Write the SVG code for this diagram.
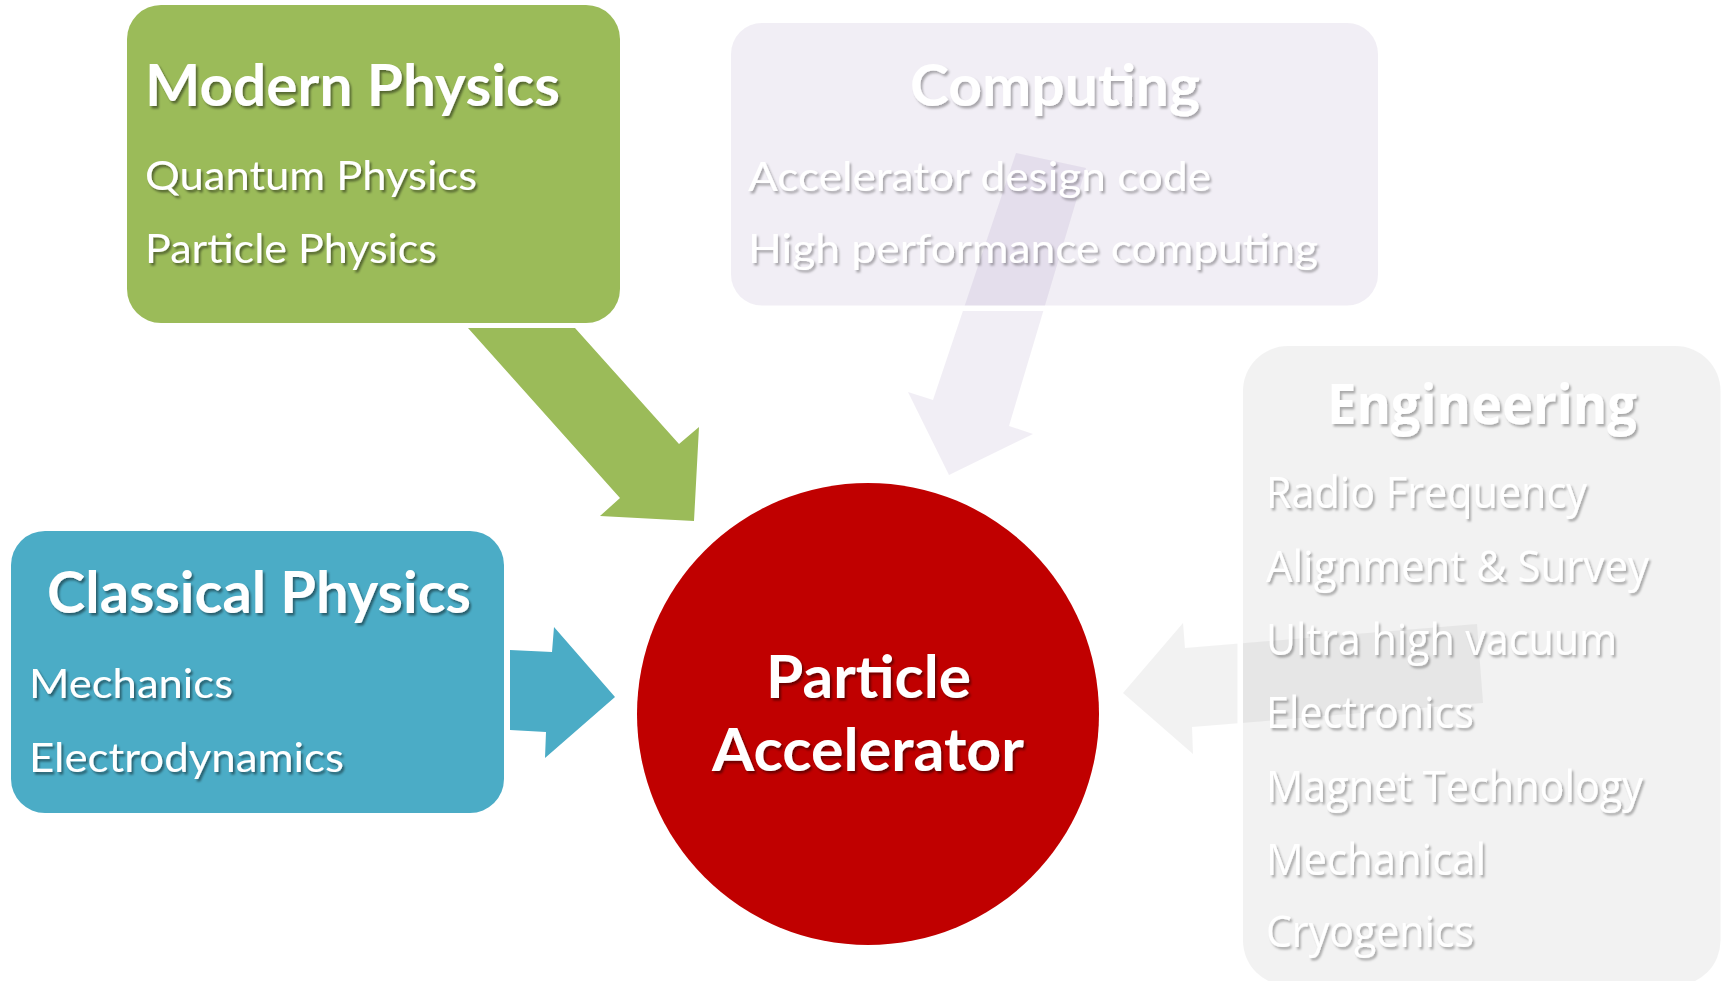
<svg xmlns="http://www.w3.org/2000/svg" width="1721" height="981" viewBox="0 0 1721 981">
  <defs>
    <filter id="ts" x="-5%" y="-20%" width="110%" height="150%">
      <feDropShadow dx="2" dy="2.5" stdDeviation="1.3" flood-color="#000" flood-opacity="0.45"/>
    </filter>
    <filter id="tsl" x="-5%" y="-20%" width="110%" height="150%">
      <feDropShadow dx="2" dy="2.5" stdDeviation="1.3" flood-color="#000" flood-opacity="0.3"/>
    </filter>
  </defs>
  <style>
    .t { fill: #fff; font-family: Lato, "Open Sans", "Liberation Sans", sans-serif; }
    .e { fill: #fff; font-family: "Open Sans", "Noto Sans", "Liberation Sans", sans-serif; }
    .b { font-weight: 700; }
    .h { font-size: 57px; }
    .i { font-size: 41px; }
    .ei { font-size: 43px; }
    .ring { fill: none; stroke: #fff; stroke-width: 5.5; }
  </style>
  <rect width="1721" height="981" fill="#fff"/>

  <g id="connectors">
    <polygon id="arrow-computing" points="1016,153 1086,168 1009,426 1033,434 949,475 908,392 933,400" fill="#8064A2" fill-opacity="0.11"/>
    <polygon id="arrow-engineering" points="1123,693 1183,623 1185,648 1477,624 1483,703 1192,727 1193,754" fill="#808080" fill-opacity="0.1"/>
    <polygon id="arrow-modern" points="468,328 575,328 679,444 699,427 694,521 600,516 620,498" fill="#9BBB59"/>
    <polygon id="arrow-classical" points="510,650 552,652 554,627 615,697 545,758 546,732 510,730" fill="#4BACC6"/>
  </g>

  <g id="node-modern">
    <rect x="127" y="5" width="493" height="318" rx="34" fill="#9BBB59"/>
    <g filter="url(#ts)">
      <text class="t b h" x="145" y="106" textLength="415" lengthAdjust="spacingAndGlyphs">Modern Physics</text>
      <text class="t i" x="145" y="190" textLength="332" lengthAdjust="spacingAndGlyphs">Quantum Physics</text>
      <text class="t i" x="145" y="263" textLength="292" lengthAdjust="spacingAndGlyphs">Particle Physics</text>
    </g>
  </g>

  <g id="node-computing">
    <rect class="ring" x="728.25" y="20.25" width="652.5" height="288" rx="34"/>
    <rect x="731" y="23" width="647" height="282.5" rx="31" fill="#8064A2" fill-opacity="0.11"/>
    <g filter="url(#tsl)">
      <text class="t b h" x="910" y="106" textLength="290" lengthAdjust="spacingAndGlyphs">Computing</text>
      <text class="t i" x="748" y="191" textLength="463" lengthAdjust="spacingAndGlyphs">Accelerator design code</text>
      <text class="t i" x="748" y="263" textLength="570" lengthAdjust="spacingAndGlyphs">High performance computing</text>
    </g>
  </g>

  <g id="node-engineering">
    <rect class="ring" x="1240.25" y="343.25" width="483" height="645" rx="48"/>
    <rect x="1243" y="346" width="477.5" height="639.5" rx="45" fill="#808080" fill-opacity="0.1"/>
    <g filter="url(#tsl)">
      <text class="e b" font-size="56" x="1327" y="424" textLength="310" lengthAdjust="spacingAndGlyphs">Engineering</text>
      <text class="e ei" x="1266" y="508" textLength="321" lengthAdjust="spacingAndGlyphs">Radio Frequency</text>
      <text class="e ei" x="1266" y="582" textLength="383" lengthAdjust="spacingAndGlyphs">Alignment &amp; Survey</text>
      <text class="e ei" x="1266" y="655" textLength="351" lengthAdjust="spacingAndGlyphs">Ultra high vacuum</text>
      <text class="e ei" x="1266" y="728" textLength="208" lengthAdjust="spacingAndGlyphs">Electronics</text>
      <text class="e ei" x="1266" y="802" textLength="377" lengthAdjust="spacingAndGlyphs">Magnet Technology</text>
      <text class="e ei" x="1266" y="875" textLength="220" lengthAdjust="spacingAndGlyphs">Mechanical</text>
      <text class="e ei" x="1266" y="947" textLength="208" lengthAdjust="spacingAndGlyphs">Cryogenics</text>
    </g>
  </g>

  <g id="node-classical">
    <rect x="11" y="531" width="493" height="282" rx="34" fill="#4BACC6"/>
    <g filter="url(#ts)">
      <text class="t b h" x="47" y="613" textLength="424" lengthAdjust="spacingAndGlyphs">Classical Physics</text>
      <text class="t i" x="29" y="698" textLength="204" lengthAdjust="spacingAndGlyphs">Mechanics</text>
      <text class="t i" x="29" y="772" textLength="315" lengthAdjust="spacingAndGlyphs">Electrodynamics</text>
    </g>
  </g>

  <g id="node-accelerator">
    <circle cx="868" cy="714" r="231" fill="#C00000"/>
    <g filter="url(#ts)">
      <text class="t b" font-size="60" x="766" y="698" textLength="205" lengthAdjust="spacingAndGlyphs">Particle</text>
      <text class="t b" font-size="60" x="712" y="771" textLength="312" lengthAdjust="spacingAndGlyphs">Accelerator</text>
    </g>
  </g>
</svg>
